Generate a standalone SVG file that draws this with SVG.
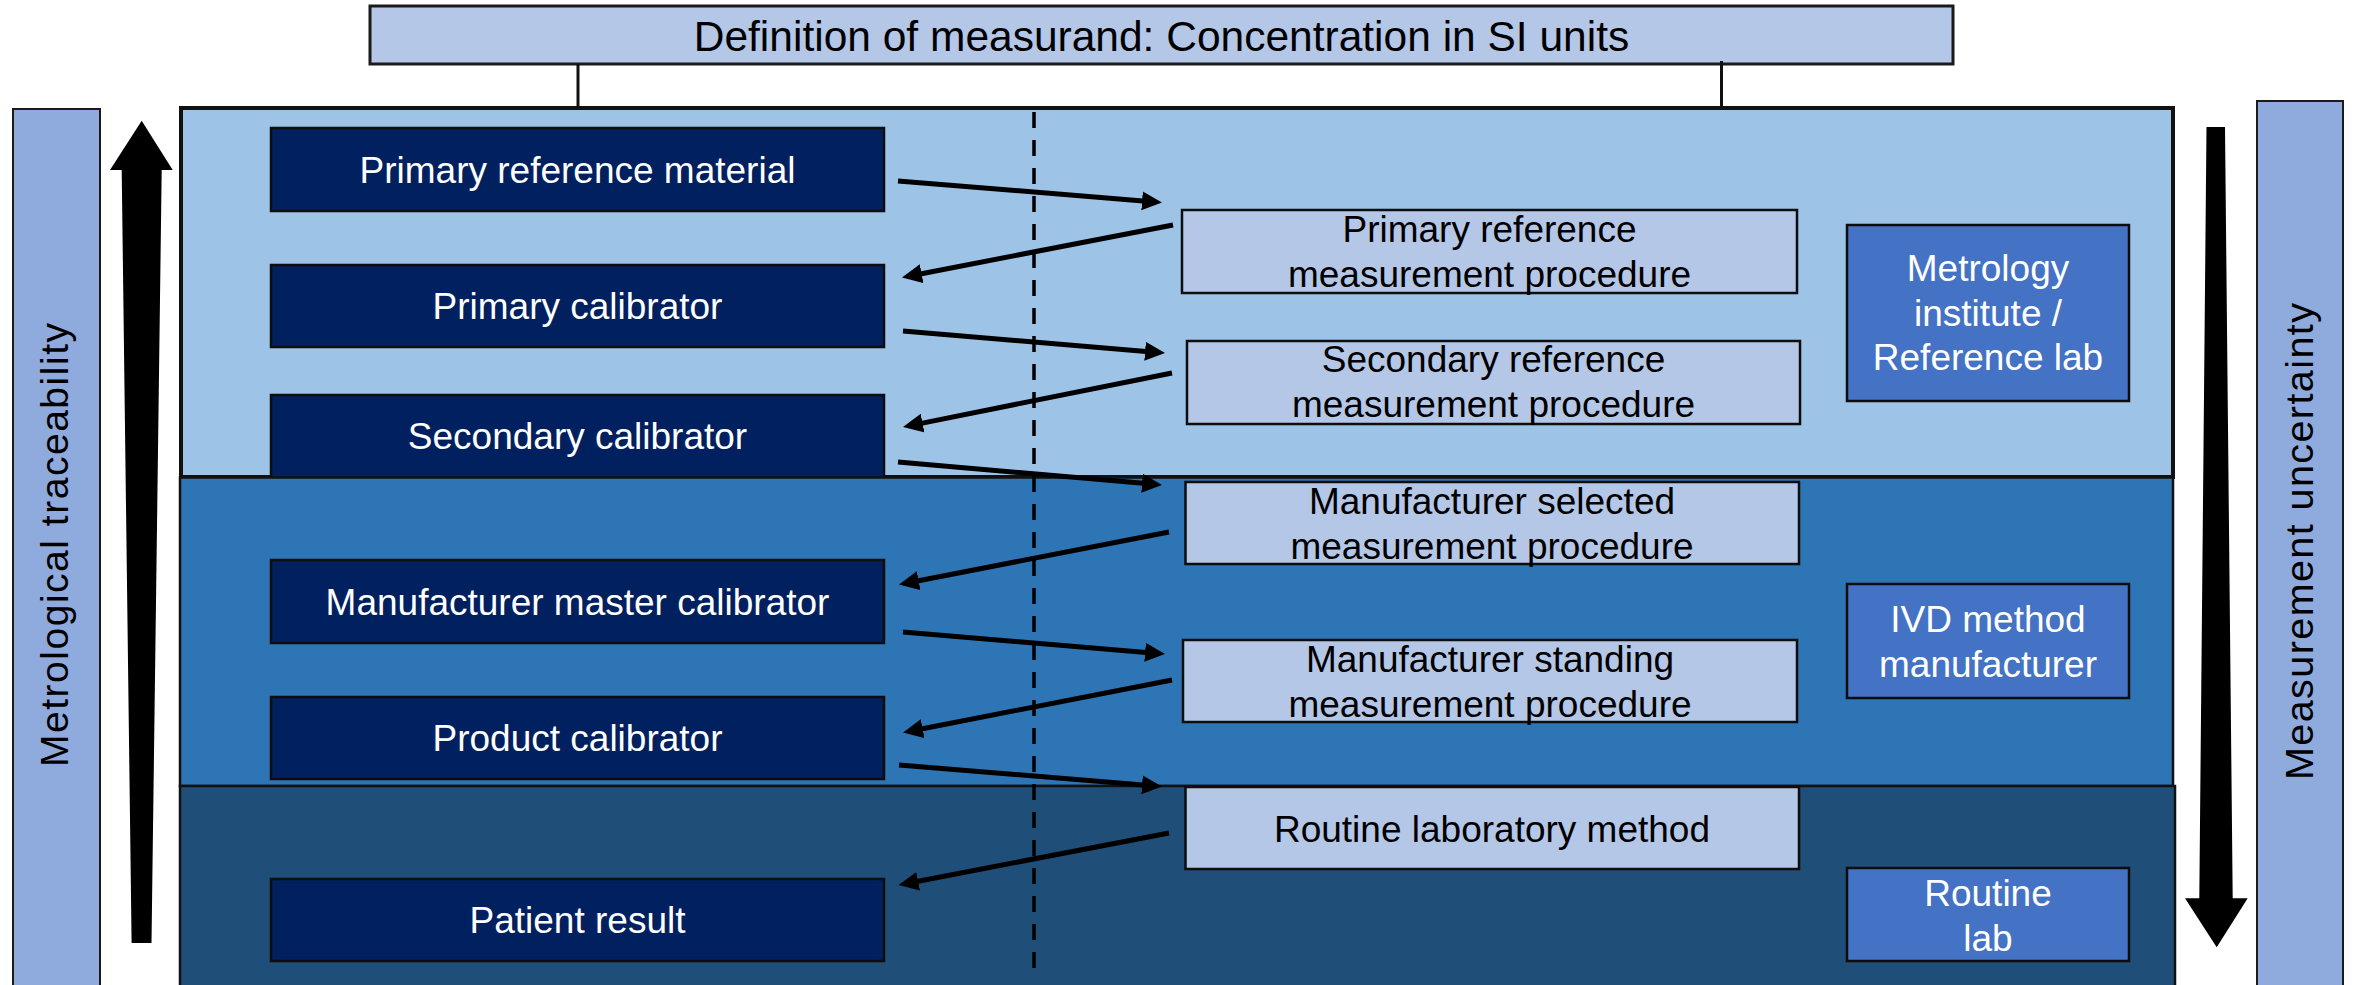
<svg xmlns="http://www.w3.org/2000/svg" width="2361" height="985" viewBox="0 0 2361 985">
<style>
.t{font-family:"Liberation Sans",Arial,sans-serif;font-size:37px;text-anchor:middle}
.w{fill:#ffffff}
.k{fill:#000000}
.nav{fill:#002060;stroke:#0d0d0d;stroke-width:2.5}
.lt{fill:#B4C7E7;stroke:#0d0d0d;stroke-width:2.5}
.bl{fill:#4472C4;stroke:#0d0d0d;stroke-width:2.5}
.side{fill:#8FAADC;stroke:#1a1a1a;stroke-width:2}
.arr{stroke:#000;stroke-width:5;fill:none;marker-end:url(#ah)}
</style>
<defs>
<marker id="ah" markerUnits="userSpaceOnUse" markerWidth="22" markerHeight="22" refX="4" refY="9.5" orient="auto">
<path d="M0,0 L20,9.5 L0,19 Z" fill="#000"/>
</marker>
</defs>
<rect width="2361" height="985" fill="#ffffff"/>

<!-- side bars -->
<g id="traceability-bar">
<rect class="side" x="13" y="109" width="87" height="900"/>
<text class="t k" transform="translate(68.3,545) rotate(-90)" style="font-size:39px" textLength="444" lengthAdjust="spacing">Metrological traceability</text>
</g>
<g id="uncertainty-bar">
<rect class="side" x="2257" y="101" width="86" height="900"/>
<text class="t k" transform="translate(2312.7,541.5) rotate(-90)" style="font-size:39.5px" textLength="477" lengthAdjust="spacing">Measurement uncertainty</text>
</g>
<g id="arrow-up">
<polygon points="141.7,120.7 172.7,170 161.7,170 151.5,943 131.6,943 121.7,170 110,170" fill="#000"/>
</g>
<g id="arrow-down">
<polygon points="2206.5,127 2225,127 2232.7,898.3 2247.7,898.3 2216.7,947.3 2185,898.3 2199.3,898.3" fill="#000"/>
</g>

<!-- top definition box -->
<g id="definition">
<rect x="370" y="6" width="1583" height="58" fill="#B4C7E7" stroke="#1a1a1a" stroke-width="3"/>
<text class="t k" x="1161.5" y="51" style="font-size:42.5px">Definition of measurand: Concentration in SI units</text>
</g>

<!-- tier 1 -->
<g id="tier-metrology">
<rect x="181" y="108" width="1992" height="369" fill="#9DC3E6" stroke="#111" stroke-width="4"/>
</g>
<g id="primary-reference-material">
<rect class="nav" x="271" y="128" width="613" height="83"/>
<text class="t w" x="577.5" y="182.5">Primary reference material</text>
</g>
<g id="primary-calibrator">
<rect class="nav" x="271" y="265" width="613" height="82"/>
<text class="t w" x="577.5" y="319">Primary calibrator</text>
</g>
<g id="secondary-calibrator">
<rect class="nav" x="271" y="395" width="613" height="84"/>
<text class="t w" x="577.5" y="449">Secondary calibrator</text>
</g>
<g id="primary-reference-procedure">
<rect class="lt" x="1182" y="210" width="615" height="83"/>
<text class="t k" x="1489.5" y="242">Primary reference</text>
<text class="t k" x="1489.5" y="287">measurement procedure</text>
</g>
<g id="secondary-reference-procedure">
<rect class="lt" x="1187" y="341" width="613" height="83"/>
<text class="t k" x="1493.5" y="372">Secondary reference</text>
<text class="t k" x="1493.5" y="417">measurement procedure</text>
</g>
<g id="metrology-institute">
<rect class="bl" x="1847" y="225" width="282" height="176"/>
<text class="t w" x="1988" y="281">Metrology</text>
<text class="t w" x="1988" y="326">institute /</text>
<text class="t w" x="1988" y="370">Reference lab</text>
</g>

<!-- tier 2 -->
<g id="tier-manufacturer">
<rect x="180" y="477.5" width="1993" height="308.5" fill="#2E75B6" stroke="#111" stroke-width="2.5"/>
</g>
<g id="manufacturer-master-calibrator">
<rect class="nav" x="271" y="560" width="613" height="83"/>
<text class="t w" x="577.5" y="614.5">Manufacturer master calibrator</text>
</g>
<g id="product-calibrator">
<rect class="nav" x="271" y="697" width="613" height="82"/>
<text class="t w" x="577.5" y="751">Product calibrator</text>
</g>
<g id="manufacturer-selected-procedure">
<rect class="lt" x="1185.5" y="482" width="613.5" height="82"/>
<text class="t k" x="1492" y="514">Manufacturer selected</text>
<text class="t k" x="1492" y="559">measurement procedure</text>
</g>
<g id="manufacturer-standing-procedure">
<rect class="lt" x="1183" y="640" width="614" height="82"/>
<text class="t k" x="1490" y="672">Manufacturer standing</text>
<text class="t k" x="1490" y="717">measurement procedure</text>
</g>
<g id="ivd-manufacturer">
<rect class="bl" x="1847" y="584" width="282" height="114"/>
<text class="t w" x="1988" y="632">IVD method</text>
<text class="t w" x="1988" y="677">manufacturer</text>
</g>

<!-- tier 3 -->
<g id="tier-routine">
<rect x="180" y="786" width="1995" height="230" fill="#1F4E79" stroke="#111" stroke-width="2.5"/>
</g>
<g id="patient-result">
<rect class="nav" x="271" y="879" width="613" height="82"/>
<text class="t w" x="577.5" y="933">Patient result</text>
</g>
<g id="routine-laboratory-method">
<rect class="lt" x="1185.5" y="787" width="613.5" height="82"/>
<text class="t k" x="1492" y="841.5">Routine laboratory method</text>
</g>
<g id="routine-lab">
<rect class="bl" x="1847" y="868" width="282" height="93"/>
<text class="t w" x="1988" y="906">Routine</text>
<text class="t w" x="1988" y="951">lab</text>
</g>

<!-- connectors -->
<g id="connectors">
<line x1="578" y1="64" x2="578" y2="108" stroke="#111" stroke-width="3"/>
<line x1="1721.5" y1="61" x2="1721.5" y2="108" stroke="#111" stroke-width="3"/>
<line x1="1034" y1="112" x2="1034" y2="970" stroke="#000" stroke-width="3.5" stroke-dasharray="16 12"/>
<line class="arr" x1="898" y1="181" x2="1146.05" y2="201.2"/>
<line class="arr" x1="1173" y1="225" x2="917.7" y2="274.46"/>
<line class="arr" x1="903" y1="331" x2="1149.05" y2="351.66"/>
<line class="arr" x1="1172" y1="373" x2="918.69" y2="423.85"/>
<line class="arr" x1="898" y1="462" x2="1146.06" y2="483.61"/>
<line class="arr" x1="1169" y1="532" x2="914.7" y2="581.45"/>
<line class="arr" x1="903" y1="632" x2="1149.05" y2="652.66"/>
<line class="arr" x1="1172" y1="680" x2="918.7" y2="729.44"/>
<line class="arr" x1="899" y1="765" x2="1146.05" y2="785.2"/>
<line class="arr" x1="1169" y1="833" x2="914.21" y2="881.98"/>
</g>
</svg>
